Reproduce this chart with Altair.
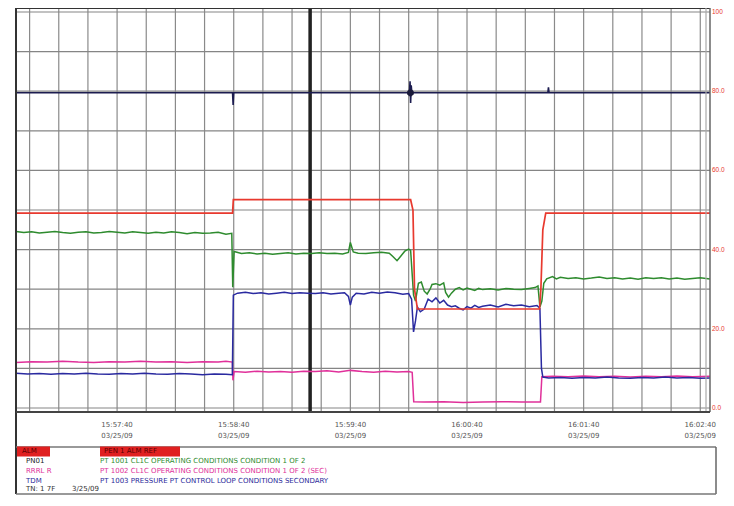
import altair as alt
import pandas as pd

# ---------------- data ----------------
# time in seconds from left edge of the strip
red_t = [0, 111.4, 111.8, 203.0, 204.2, 205.0, 206.5, 269.3, 270.0, 271.0, 272.5, 357]
red_v = [49.2, 49.2, 52.6, 52.6, 50.0, 30.0, 25.0, 25.0, 30.0, 45.0, 49.2, 49.2]

green_t = [0, 4, 8, 12, 16, 20, 24, 28, 32, 36, 40, 44, 48, 52, 56, 60, 64, 68, 72, 76, 80, 84, 88, 92, 96, 100,
           104, 108, 111, 111.5, 112.2, 116, 120, 124, 128, 132, 136, 140, 144, 148, 152, 156, 160, 164, 168, 171,
           172, 173.5, 176, 180, 184, 188, 192, 194, 196, 198, 200, 202, 203, 204.5, 205.5, 207, 208.5, 210, 211.5,
           213, 214, 216, 218, 220, 221, 222.5, 224, 226, 228, 230, 232, 234, 236, 238, 240, 244, 248, 252, 256, 260,
           264, 267, 268.5, 269.5, 270.5, 271.5, 273, 276, 278, 280, 284, 288, 292, 296, 300, 304, 308, 312, 316,
           320, 324, 328, 332, 336, 340, 344, 348, 352, 357]
green_v = [44.6, 44.3, 44.5, 44.2, 44.4, 44.6, 44.3, 44.1, 44.4, 44.5, 44.2, 44.3, 44.6, 44.4, 44.2, 44.5, 44.3,
           44.1, 44.4, 44.2, 44.5, 44.3, 44.0, 44.3, 44.1, 44.2, 44.4, 43.9, 44.1, 30.5, 39.5, 39.0, 39.2, 38.9,
           39.1, 38.8, 39.0, 39.2, 38.9, 39.1, 39.0, 39.2, 39.0, 39.1, 38.9, 39.3, 41.8, 39.4, 39.1, 39.0, 39.2,
           39.3, 39.1, 38.2, 37.2, 38.4, 39.6, 40.1, 39.8, 28.5, 27.0, 31.5, 31.8, 29.5, 28.8, 30.0, 31.2, 31.4,
           31.0, 31.6, 29.2, 28.0, 29.0, 30.0, 30.4, 29.8, 30.3, 30.0, 29.7, 30.2, 29.9, 30.1, 29.8, 30.2, 30.0,
           29.9, 30.2, 30.4, 30.8, 25.5, 27.0, 31.5, 32.6, 33.2, 32.6, 33.0, 32.7, 32.9, 32.6, 32.8, 33.1, 32.7,
           32.9, 32.6, 32.8, 32.5, 32.9, 32.7, 32.9, 32.6, 32.8, 32.5, 32.7, 32.9, 32.6]

blue_t = [0, 6, 12, 18, 24, 30, 36, 42, 48, 54, 60, 66, 72, 78, 84, 90, 96, 102, 108, 111.3, 111.8, 114, 118, 122,
          126, 130, 134, 138, 142, 146, 150, 154, 158, 162, 166, 169, 171, 172, 173, 175, 179, 183, 187, 191, 195,
          199, 202, 203.5, 204.5, 205.5, 206.5, 208, 210, 212, 214, 216, 218, 220, 222, 224, 226, 228, 230, 232,
          234, 236, 238, 240, 244, 248, 252, 256, 260, 264, 268, 269.5, 270.3, 271, 274, 280, 286, 292, 298, 304,
          310, 316, 322, 328, 334, 340, 346, 352, 357]
blue_v = [8.8, 8.6, 8.7, 8.5, 8.7, 8.6, 8.8, 8.6, 8.5, 8.7, 8.6, 8.8, 8.6, 8.5, 8.7, 8.6, 8.4, 8.6, 8.5, 8.4, 28.5,
          29.0, 29.2, 28.9, 29.1, 28.8, 29.0, 29.2, 28.9, 29.1, 29.0, 28.9, 29.1, 28.8, 29.0, 29.1, 28.2, 26.0, 28.0,
          29.0, 28.8, 29.2, 29.0, 29.3, 29.1, 28.7, 28.9, 27.5, 19.2, 22.0, 25.5, 24.3, 25.0, 27.5, 26.8, 27.8, 26.5,
          27.2, 26.0, 25.6, 25.8, 25.2, 24.8, 25.6, 25.2, 25.9, 25.4, 25.7, 26.0, 25.5, 26.2, 25.8, 26.0, 25.6,
          25.9, 25.2, 10.0, 7.8, 7.6, 7.7, 7.5, 7.7, 7.6, 7.8, 7.6, 7.5, 7.7, 7.6, 7.8, 7.6, 7.7, 7.5, 7.6]

magenta_t = [0, 8, 16, 24, 32, 40, 48, 56, 64, 72, 80, 88, 96, 104, 108, 111.3, 111.6, 112.2, 118, 124, 130, 136,
             142, 148, 154, 160, 166, 172, 178, 184, 190, 196, 202, 203.8, 204.6, 210, 220, 230, 240, 250, 260,
             269.8, 270.5, 276, 284, 292, 300, 308, 316, 324, 332, 340, 348, 357]
magenta_v = [11.5, 11.7, 11.6, 11.8, 11.6, 11.5, 11.7, 11.6, 11.8, 11.6, 11.7, 11.5, 11.7, 11.6, 11.8, 11.6, 7.0,
             9.2, 9.0, 9.3, 9.1, 9.2, 9.0, 9.3, 9.2, 9.4, 9.1, 9.5, 9.2, 9.0, 9.3, 9.1, 9.2, 9.0, 1.6, 1.5, 1.6, 1.4,
             1.5, 1.6, 1.5, 1.5, 7.9, 8.0, 7.9, 8.1, 7.9, 8.0, 7.8, 8.0, 7.9, 8.1, 7.9, 8.0]

navy_t = [0, 111.4, 111.7, 112.0, 202.4, 202.7, 203.0, 203.3, 203.6, 273.6, 273.9, 274.2, 357]
navy_v = [79.6, 79.6, 76.5, 79.6, 79.6, 82.5, 77.0, 81.5, 79.6, 79.6, 81.0, 79.6, 79.6]

star_t = [202.9]
star_v = [79.6]
cursor_t = [151.3]

grid_t = [7, 22, 37, 52, 67, 82, 97, 112, 127, 142, 157, 172, 187, 202, 217, 232, 247, 262, 277, 292, 307, 322,
          337, 352]
grid_v = [0, 10, 20, 30, 40, 50, 60, 70, 80, 90, 100]

scale_v = [0, 20, 40, 60, 80, 100]
scale_lbl = ["0.0", "20.0", "40.0", "60.0", "80.0", "100"]

tick_t = [52, 112, 172, 232, 292, 352]
tick_time = ["15:57:40", "15:58:40", "15:59:40", "16:00:40", "16:01:40", "16:02:40"]
tick_date = ["03/25/09", "03/25/09", "03/25/09", "03/25/09", "03/25/09", "03/25/09"]

legend_tags = ["ALM", "PN01", "RRRL R", "TDM"]
legend_texts = ["PEN 1 ALM REF",
                "PT 1001 CL1C OPERATING CONDITIONS CONDITION 1 OF 2",
                "PT 1002 CL1C OPERATING CONDITIONS CONDITION 1 OF 2 (SEC)",
                "PT 1003 PRESSURE PT CONTROL LOOP CONDITIONS SECONDARY"]
legend_colors = ["#5a0000", "#2e8b2e", "#e0309a", "#2a2a9a"]
footer = ["TN: 1 7F", "3/25/09"]

# ---------------- chart ----------------
xs = alt.Scale(domain=[0, 357], nice=False, zero=False)
ys = alt.Scale(domain=[-1.01, 101.01], nice=False, zero=False)

def series(ts, vs, color, width=1.5):
    d = pd.DataFrame({"t": ts, "v": vs, "o": list(range(len(ts)))})
    return alt.Chart(d).mark_line(color=color, strokeWidth=width, interpolate="linear").encode(
        x=alt.X("t:Q", scale=xs, axis=None),
        y=alt.Y("v:Q", scale=ys, axis=None),
        order="o:Q",
    )

gx = alt.Chart(pd.DataFrame({"t": grid_t})).mark_rule(color="#8a8a8a", strokeWidth=1.2).encode(
    x=alt.X("t:Q", scale=xs, axis=None))
gy = alt.Chart(pd.DataFrame({"v": grid_v})).mark_rule(color="#858585", strokeWidth=1.2).encode(
    y=alt.Y("v:Q", scale=ys, axis=None))

scale_txt = alt.Chart(pd.DataFrame({"v": scale_v, "l": scale_lbl})).mark_text(
    align="left", baseline="middle", fontSize=6.5, color="#e8392e", font="Liberation Sans").encode(
    x=alt.value(696), y=alt.Y("v:Q", scale=ys, axis=None), text="l:N")

cursor = alt.Chart(pd.DataFrame({"t": cursor_t})).mark_rule(color="#222222", strokeWidth=3.5).encode(
    x=alt.X("t:Q", scale=xs, axis=None))

star_df = pd.DataFrame({"t": star_t, "v": star_v})
star1 = alt.Chart(star_df).mark_point(shape="cross", filled=True, color="#1a1a3a", size=45, opacity=1).encode(
    x=alt.X("t:Q", scale=xs, axis=None), y=alt.Y("v:Q", scale=ys, axis=None))
star2 = alt.Chart(star_df).mark_point(shape="cross", filled=True, color="#1a1a3a", size=45, angle=45,
                                      opacity=1).encode(
    x=alt.X("t:Q", scale=xs, axis=None), y=alt.Y("v:Q", scale=ys, axis=None))

tick_df = pd.DataFrame({"t": tick_t, "time": tick_time, "date": tick_date})
tl1 = alt.Chart(tick_df).mark_text(fontSize=7, color="#555555", font="DejaVu Sans").encode(
    x=alt.X("t:Q", scale=xs, axis=None), y=alt.value(417), text="time:N")
tl2 = alt.Chart(tick_df).mark_text(fontSize=7, color="#555555", font="DejaVu Sans").encode(
    x=alt.X("t:Q", scale=xs, axis=None), y=alt.value(428), text="date:N")

one = pd.DataFrame({"a": [0]})

def rule(x1, x2, y1, y2, color="#333333", w=1.5):
    return alt.Chart(one).mark_rule(color=color, strokeWidth=w).encode(
        x=alt.value(x1), x2=alt.value(x2), y=alt.value(y1), y2=alt.value(y2))

def rect(x1, x2, y1, y2, color):
    return alt.Chart(one).mark_rect(color=color).encode(
        x=alt.value(x1), x2=alt.value(x2), y=alt.value(y1), y2=alt.value(y2))

def txt(x, y, s, color, size=7):
    return alt.Chart(one).mark_text(align="left", baseline="middle", fontSize=size, color=color,
                                    font="DejaVu Sans").encode(
        x=alt.value(x), y=alt.value(y), text=alt.value(s))

frame = [
    rule(0, 694, 0, 0, "#333333", 2.2),
    rule(0, 0, 0, 486, "#333333", 2),
    rule(694, 694, 0, 404, "#666666", 1.5),
    rule(690, 690, 0, 404, "#aaaaaa", 1.2),
    rule(0, 694, 404, 404, "#444444", 1.8),
    rule(0, 700, 439, 439, "#777777", 1.5),
    rule(700, 700, 439, 486, "#666666", 1.5),
    rule(0, 700, 486, 486, "#777777", 1.5),
]

legend_rows_y = [443, 453, 463, 473]
legend = [rect(1, 34, 438.5, 448.5, "#e02020"), rect(84, 164, 438.5, 448.5, "#e02020")]
legend.append(txt(6, legend_rows_y[0], legend_tags[0], legend_colors[0]))
legend.append(txt(88, legend_rows_y[0], legend_texts[0], legend_colors[0]))
tag_cols = ["#222222", "#e0309a", "#2a2a9a"]
for i in range(1, 4):
    legend.append(txt(10, legend_rows_y[i], legend_tags[i], tag_cols[i - 1]))
    legend.append(txt(84, legend_rows_y[i], legend_texts[i], legend_colors[i]))
legend.append(txt(10, 481, footer[0], "#333333"))
legend.append(txt(56, 481, footer[1], "#333333"))

layers = [gx, gy, cursor,
          series(navy_t, navy_v, "#1c1c50", 1.6),
          series(magenta_t, magenta_v, "#e0309a"),
          series(blue_t, blue_v, "#2a2aa0"),
          series(green_t, green_v, "#2e8b2e"),
          series(red_t, red_v, "#e8392e", 1.7),
          star1, star2, tl1, tl2, scale_txt] + frame + legend

chart = alt.layer(*layers).properties(
    width=694, height=404,
    autosize=alt.AutoSizeParams(type="none"),
    padding={"left": 8, "top": 0, "right": 16, "bottom": 84},
    background="white",
).configure_view(stroke=None)

chart.save("out.html", embed_options={"renderer": "svg", "actions": False})
